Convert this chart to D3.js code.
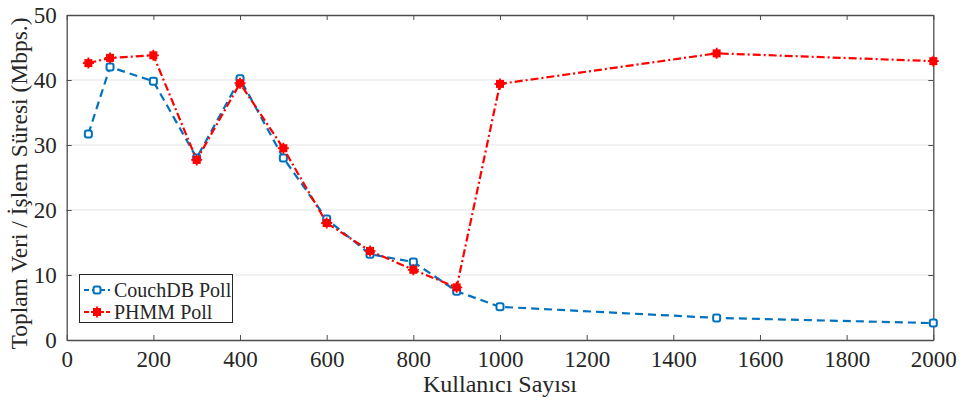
<!DOCTYPE html>
<html>
<head>
<meta charset="utf-8">
<script src="https://cdn.jsdelivr.net/npm/d3@7"></script>
<style>
  body { margin: 0; background: #fff; }
  text { font-family: "Liberation Serif", "Times New Roman", serif; fill: #262626; }
</style>
</head>
<body>
<svg width="964" height="405"></svg>
<script>
var users = [50, 100, 200, 300, 400, 500, 600, 700, 800, 900, 1000, 1500, 2000];
var couchdb = [31.7, 42.0, 39.8, 28.0, 40.2, 28.0, 18.6, 13.2, 12.0, 7.5, 5.1, 3.4, 2.6];
var phmm = [42.6, 43.4, 43.8, 27.7, 39.5, 29.5, 18.0, 13.7, 10.8, 8.1, 39.4, 44.1, 42.9];
var xTicks = [0, 200, 400, 600, 800, 1000, 1200, 1400, 1600, 1800, 2000];
var yTicks = [0, 10, 20, 30, 40, 50];

var svg = d3.select("svg");
var pLeft = 66.7, pRight = 933.3, pTop = 15, pBottom = 340;

var x = d3.scaleLinear().domain([0, 2000]).range([pLeft, pRight]);
var y = d3.scaleLinear().domain([0, 50]).range([pBottom, pTop]);

// grid
svg.append("g").selectAll("line")
  .data(yTicks.filter(function(d){ return d > 0 && d < 50; }))
  .enter().append("line")
  .attr("x1", pLeft).attr("x2", pRight)
  .attr("y1", function(d){ return y(d); }).attr("y2", function(d){ return y(d); })
  .attr("stroke", "#e3e3e3").attr("stroke-width", 1);

// axes (ticks point inward)
var axisCol = "#4d4d4d";
var gx = svg.append("g").attr("transform", "translate(0," + pBottom + ")")
  .call(d3.axisBottom(x).tickValues(xTicks).tickFormat(d3.format("d")).tickSizeInner(-5).tickSizeOuter(0).tickPadding(11));
var gxt = svg.append("g").attr("transform", "translate(0," + pTop + ")")
  .call(d3.axisTop(x).tickValues(xTicks).tickSizeInner(-5).tickSizeOuter(0).tickFormat(""));
var gy = svg.append("g").attr("transform", "translate(" + pLeft + ",0)")
  .call(d3.axisLeft(y).tickValues(yTicks).tickSizeInner(-5).tickSizeOuter(0).tickPadding(10));
var gyr = svg.append("g").attr("transform", "translate(" + pRight + ",0)")
  .call(d3.axisRight(y).tickValues(yTicks).tickSizeInner(-5).tickSizeOuter(0).tickFormat(""));

[gx, gxt, gy, gyr].forEach(function(g) {
  g.selectAll(".domain").attr("stroke", axisCol).attr("stroke-width", 1.3);
  g.selectAll(".tick line").attr("stroke", axisCol);
  g.selectAll("text").attr("font-size", "23px").attr("fill", "#262626")
    .attr("font-family", "Liberation Serif, serif");
});

// axis titles
svg.append("text")
  .attr("x", (pLeft + pRight) / 2).attr("y", 392)
  .attr("text-anchor", "middle").attr("font-size", "24px")
  .text("Kullanıcı Sayısı");
svg.append("text")
  .attr("transform", "translate(27," + ((pTop + pBottom) / 2 + 6) + ") rotate(-90)")
  .attr("text-anchor", "middle").attr("font-size", "23.5px")
  .text("Toplam Veri / İşlem Süresi (Mbps.)");

var blue = "#0072bd", red = "#ff0000";
var line = d3.line().x(function(d){ return x(d[0]); }).y(function(d){ return y(d[1]); });
var blueData = users.map(function(u, i){ return [u, couchdb[i]]; });
var redData = users.map(function(u, i){ return [u, phmm[i]]; });

svg.append("path").datum(blueData).attr("d", line)
  .attr("fill", "none").attr("stroke", blue).attr("stroke-width", 2.2)
  .attr("stroke-dasharray", "8,5");
svg.selectAll(".bm").data(blueData).enter().append("rect")
  .attr("class", "bm")
  .attr("x", function(d){ return x(d[0]) - 3.5; }).attr("y", function(d){ return y(d[1]) - 3.5; })
  .attr("width", 7).attr("height", 7).attr("rx", 2)
  .attr("fill", "#fff").attr("stroke", blue).attr("stroke-width", 2);

svg.append("path").datum(redData).attr("d", line)
  .attr("fill", "none").attr("stroke", red).attr("stroke-width", 2.2)
  .attr("stroke-dasharray", "8,3,2,3");
var rm = svg.selectAll(".rm").data(redData).enter().append("g").attr("class", "rm")
  .attr("transform", function(d){ return "translate(" + x(d[0]) + "," + y(d[1]) + ")"; });
rm.append("rect").attr("x", -4).attr("y", -4).attr("width", 8).attr("height", 8).attr("fill", red);
rm.append("path").attr("d", "M-5.5,0H5.5M0,-5.5V5.5").attr("stroke", red).attr("stroke-width", 1.8);

// legend
var lg = svg.append("g");
lg.append("rect").attr("x", 79.5).attr("y", 274.5).attr("width", 153).attr("height", 48)
  .attr("fill", "#fff").attr("stroke", "#262626").attr("stroke-width", 1);
var items = [{name: "CouchDB Poll", c: blue}, {name: "PHMM Poll", c: red}];
items.forEach(function(it, i) {
  var yy = 290 + i * 22;
  lg.append("line").attr("x1", 84).attr("x2", 110).attr("y1", yy).attr("y2", yy)
    .attr("stroke", it.c).attr("stroke-width", 2.2).attr("stroke-dasharray", i == 0 ? "5,3" : "5,2,2,2");
  if (i == 0) {
    lg.append("rect").attr("x", 97 - 3.5).attr("y", yy - 3.5).attr("width", 7).attr("height", 7).attr("rx", 2)
      .attr("fill", "#fff").attr("stroke", it.c).attr("stroke-width", 2);
  } else {
    lg.append("rect").attr("x", 93).attr("y", yy - 4).attr("width", 8).attr("height", 8).attr("fill", it.c);
    lg.append("path").attr("d", "M91.5," + yy + "H102.5M97," + (yy - 5.5) + "V" + (yy + 5.5))
      .attr("stroke", it.c).attr("stroke-width", 1.8);
  }
  lg.append("text").attr("x", 114).attr("y", yy + 7).attr("font-size", "20px").text(it.name);
});
</script>
</body>
</html>
